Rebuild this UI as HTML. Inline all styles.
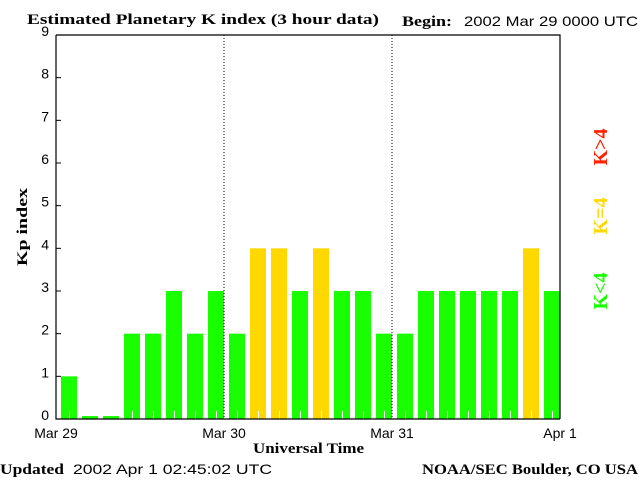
<!DOCTYPE html>
<html><head><meta charset="utf-8"><style>
body{margin:0;background:#fff;}
svg{display:block;}
.s{font-family:"Liberation Sans",sans-serif;font-size:14px;fill:#000;}
.b{font-family:"Liberation Serif",serif;font-weight:bold;font-size:15px;fill:#000;}
</style></head><body>
<svg id="c" width="640" height="480" xmlns="http://www.w3.org/2000/svg">
<text class="b" x="27" y="24" textLength="352" lengthAdjust="spacingAndGlyphs">Estimated Planetary K index (3 hour data)</text>
<text class="b" x="402" y="26" textLength="50" lengthAdjust="spacingAndGlyphs">Begin:</text>
<text class="s" x="464" y="26" textLength="174" lengthAdjust="spacingAndGlyphs">2002 Mar 29 0000 UTC</text>
<g id="bars"></g>
<g id="axes"></g>
<text class="b" x="253" y="453" textLength="111" lengthAdjust="spacingAndGlyphs">Universal Time</text>
<text class="b" transform="translate(27,227) rotate(-90)" text-anchor="middle" textLength="78" lengthAdjust="spacingAndGlyphs">Kp index</text>
<text class="b" x="0" y="474" textLength="64" lengthAdjust="spacingAndGlyphs">Updated</text>
<text class="s" x="73" y="474" textLength="199" lengthAdjust="spacingAndGlyphs">2002 Apr  1 02:45:02 UTC</text>
<text class="b" x="422" y="474" textLength="216" lengthAdjust="spacingAndGlyphs">NOAA/SEC Boulder, CO USA</text>
<text transform="translate(607,147) rotate(-90)" text-anchor="middle" font-family="Liberation Serif,serif" font-weight="bold" font-size="20" fill="#ff2000">K&gt;4</text>
<text transform="translate(607,216) rotate(-90)" text-anchor="middle" font-family="Liberation Serif,serif" font-weight="bold" font-size="20" fill="#ffd800">K=4</text>
<text transform="translate(607,291) rotate(-90)" text-anchor="middle" font-family="Liberation Serif,serif" font-weight="bold" font-size="20" fill="#1aff00">K&lt;4</text>
</svg>
<script>
const kpValues=[1,0,0,2,2,3,2,3, 2,4,4,3,4,3,3,2, 2,3,3,3,3,3,4,3];
const yTicks=[0,1,2,3,4,5,6,7,8,9];
const dayLabels=["Mar 29","Mar 30","Mar 31","Apr 1"];
const NS="http://www.w3.org/2000/svg";
const L=56,R=560,T=35,B=419;
const y=v=>B-(B-T)*v/9;
const slot=(R-L)/kpValues.length;
const x=i=>L+slot*i;
function mk(tag,at,parent){const e=document.createElementNS(NS,tag);for(const k in at)e.setAttribute(k,at[k]);parent.appendChild(e);return e;}
const bars=document.getElementById('bars'),axes=document.getElementById('axes');
kpValues.forEach((v,i)=>{
  const col=v>4?'#ff2000':(v==4?'#ffd800':'#1aff00');
  const vv=Math.max(v,0.07);
  const r=mk('rect',{x:x(i)+5,y:y(vv),width:slot-5,height:B-y(vv),fill:col},bars);
  
  
  if(v>0){const t=mk('line',{x1:x(i)+13.5,x2:x(i)+13.5,y1:B-8,y2:B,stroke:'#fff'},bars);
  
  }
});
const fr=mk('path',{d:`M${L} ${T}H${R}V${B}M${L} ${T}V${B}H${R}`,stroke:'#000',fill:'none','stroke-width':1.2},axes);


yTicks.forEach(t=>{
  const ln=mk('line',{x1:L,x2:L+5,y1:y(t),y2:y(t),stroke:'#000'},axes);
  
  
  const tx=mk('text',{x:L-7,y:y(t)+1,'text-anchor':'end',class:'s'},axes);
  tx.textContent=t;
  
  
});
dayLabels.forEach((d,i)=>{
  const xx=L+(R-L)/3*i;
  if(i>0&&i<3){const dl=mk('line',{x1:xx,x2:xx,y1:T,y2:B,stroke:'#000','stroke-dasharray':'1,2'},axes);
  
  }
  const tx=mk('text',{x:xx,y:438,'text-anchor':'middle',class:'s'},axes);
  tx.textContent=d;
  
  
});
</script>
</body></html>
